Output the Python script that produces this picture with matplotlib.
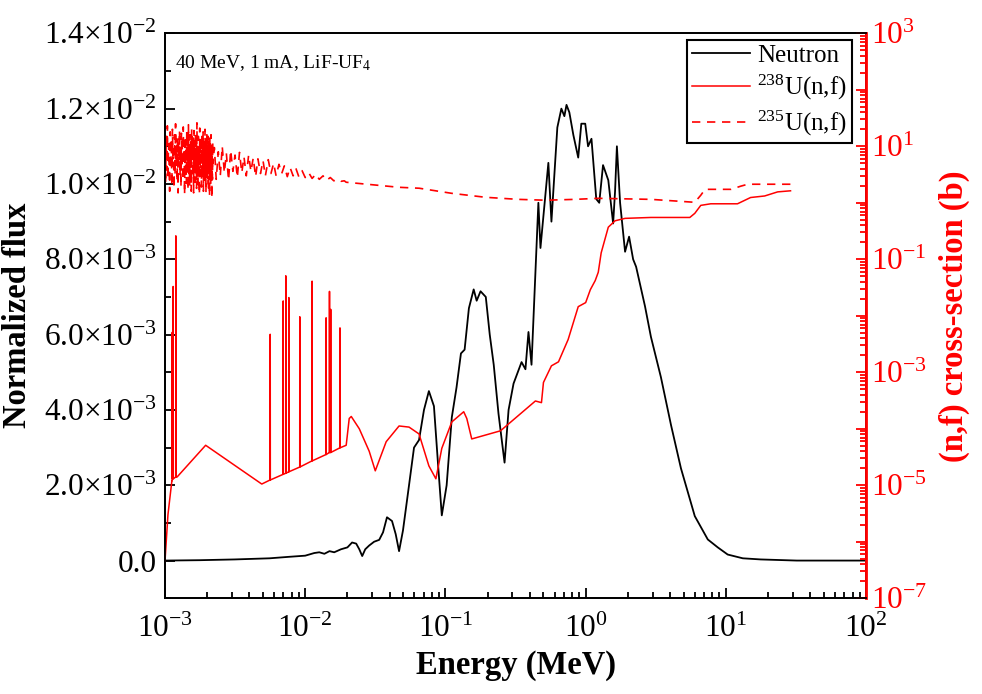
import numpy as np
import matplotlib
matplotlib.use('Agg')
import matplotlib.pyplot as plt
from matplotlib.ticker import FixedLocator, FuncFormatter, LogLocator, MultipleLocator

plt.rcParams['font.family'] = ['Liberation Serif', 'DejaVu Serif']
plt.rcParams['mathtext.fontset'] = 'custom'
plt.rcParams['mathtext.rm'] = 'Liberation Serif'
plt.rcParams['mathtext.it'] = 'Liberation Serif:italic'
plt.rcParams['mathtext.bf'] = 'Liberation Serif:bold'

# neutron flux (left axis, in units of 1e-3), energy in MeV
flux_e = [1e-3, 1.77e-3, 3.14e-3, 5.57e-3, 7.7e-3, 0.010, 0.0116, 0.0126, 0.0137, 0.0149,
          0.0161, 0.018, 0.020, 0.0216, 0.0231, 0.0243, 0.0255, 0.0268, 0.0286, 0.031,
          0.0337, 0.0359, 0.0383, 0.0416, 0.0442, 0.0467, 0.0498, 0.055, 0.0597, 0.0648,
          0.0703, 0.0762, 0.0828, 0.0884, 0.0942, 0.102, 0.111, 0.120, 0.129, 0.137,
          0.147, 0.159, 0.167, 0.178, 0.194, 0.207, 0.221, 0.239, 0.264, 0.282,
          0.306, 0.349, 0.372, 0.391, 0.411, 0.46, 0.476, 0.542, 0.57, 0.628,
          0.671, 0.705, 0.73, 0.765, 0.817, 0.885, 0.931, 0.993, 1.04, 1.10,
          1.19, 1.25, 1.33, 1.45, 1.57, 1.62, 1.67, 1.76, 1.91, 2.04,
          2.18, 2.29, 2.65, 2.92, 3.44, 4.06, 4.78, 6.0, 7.43, 8.75,
          10.3, 13.2, 17.7, 32.0, 100.0]
flux_v = [0.0, 0.01, 0.03, 0.06, 0.10, 0.13, 0.20, 0.22, 0.18, 0.25,
          0.22, 0.30, 0.35, 0.48, 0.45, 0.30, 0.12, 0.30, 0.40, 0.50,
          0.55, 0.75, 1.15, 1.05, 0.70, 0.25, 0.80, 2.0, 3.0, 3.2,
          4.0, 4.5, 4.1, 2.6, 1.2, 2.0, 3.8, 4.6, 5.5, 5.6,
          6.7, 7.2, 6.9, 7.15, 7.0, 6.0, 5.2, 3.9, 2.6, 4.0,
          4.7, 5.27, 5.08, 6.07, 5.2, 9.5, 8.3, 10.56, 9.0, 11.5,
          12.0, 11.8, 12.1, 11.9, 11.3, 10.7, 11.6, 11.6, 11.0, 11.2,
          9.6, 9.5, 10.5, 10.1, 8.95, 9.8, 11.0, 9.5, 8.2, 8.6,
          8.0, 7.8, 6.75, 5.94, 4.87, 3.6, 2.45, 1.18, 0.56, 0.35,
          0.16, 0.06, 0.03, 0.0, 0.0]

# 238U(n,f) cross-section (b), resonance spikes as base/peak/base triples
u238_e = [1.0e-3, 1.05e-3, 1.12e-3, 1.125e-3, 1.127e-3, 1.129e-3, 1.142e-3, 1.144e-3, 1.146e-3,
          1.193e-3, 1.195e-3, 1.197e-3, 1.22e-3, 1.95e-3, 4.9e-3,
          5.62e-3, 5.63e-3, 5.64e-3, 6.96e-3, 6.97e-3, 6.98e-3, 7.26e-3, 7.27e-3, 7.28e-3,
          7.63e-3, 7.64e-3, 7.65e-3, 9.14e-3, 9.15e-3, 9.16e-3, 0.01118, 0.0112, 0.01122,
          0.01408, 0.0141, 0.01412, 0.01488, 0.0149, 0.01492, 0.01518, 0.0152, 0.01522,
          0.01768, 0.0177, 0.01772, 0.0196,
          0.0206, 0.0213, 0.0243, 0.0286, 0.0316, 0.0378, 0.0467, 0.055, 0.0648, 0.0762,
          0.0855, 0.0942, 0.111, 0.135, 0.142, 0.154, 0.247, 0.438, 0.484, 0.50,
          0.57, 0.64, 0.75, 0.885, 1.0, 1.08, 1.17, 1.23, 1.29, 1.45,
          1.62, 1.91, 2.92, 5.53, 6.0, 6.62, 7.8, 12.1, 15.0, 18.9,
          23.4, 28.9]
u238_v = [4.5e-7, 3.0e-6, 1.2e-5, 1.2e-5, 5.1e-3, 1.3e-5, 1.3e-5, 3.3e-2, 1.3e-5,
          1.4e-5, 0.26, 1.4e-5, 1.4e-5, 5.1e-5, 1.05e-5,
          1.24e-5, 4.7e-3, 1.24e-5, 1.56e-5, 1.83e-2, 1.56e-5, 1.63e-5, 5.1e-2, 1.63e-5,
          1.73e-5, 2.1e-2, 1.73e-5, 2.1e-5, 9.6e-3, 2.1e-5, 2.7e-5, 4.1e-2, 2.7e-5,
          3.5e-5, 9.2e-3, 3.5e-5, 3.8e-5, 2.7e-2, 3.8e-5, 3.8e-5, 1.3e-2, 3.8e-5,
          4.6e-5, 6.1e-3, 4.6e-5, 5.1e-5,
          1.52e-4, 1.65e-4, 1.0e-4, 4.0e-5, 1.8e-5, 5.9e-5, 1.12e-4, 1.07e-4, 8.1e-5, 2.2e-5,
          1.3e-5, 4.5e-5, 1.32e-4, 2.0e-4, 1.52e-4, 6.6e-5, 9.2e-5, 3.1e-4, 2.9e-4, 6.6e-4,
          1.3e-3, 1.53e-3, 3.8e-3, 1.45e-2, 1.71e-2, 2.9e-2, 4.2e-2, 5.9e-2, 0.13, 0.37,
          0.48, 0.53, 0.55, 0.55, 0.65, 0.90, 0.96, 0.96, 1.24, 1.32,
          1.56, 1.63]

# 235U(n,f) cross-section (b), energy in keV
u235_e_kev = [1.00, 1.01, 1.02, 1.03, 1.04, 1.05, 1.06, 1.07, 1.08, 1.09,
              1.10, 1.11, 1.12, 1.13, 1.14, 1.15, 1.16, 1.17, 1.18, 1.19,
              1.20, 1.21, 1.22, 1.23, 1.24, 1.25, 1.26, 1.27, 1.28, 1.29,
              1.30, 1.31, 1.32, 1.33, 1.34, 1.35, 1.36, 1.37, 1.38, 1.39,
              1.40, 1.41, 1.42, 1.43, 1.44, 1.45, 1.46, 1.47, 1.48, 1.49,
              1.50, 1.51, 1.52, 1.53, 1.54, 1.55, 1.56, 1.57, 1.58, 1.59,
              1.60, 1.61, 1.62, 1.63, 1.64, 1.65, 1.66, 1.67, 1.68, 1.69,
              1.70, 1.71, 1.72, 1.73, 1.74, 1.75, 1.76, 1.77, 1.78, 1.79,
              1.80, 1.81, 1.82, 1.83, 1.84, 1.85, 1.86, 1.87, 1.88, 1.89,
              1.90, 1.91, 1.92, 1.93, 1.94, 1.95, 1.96, 1.97, 1.98, 1.99,
              2.00, 2.01, 2.02, 2.03, 2.04, 2.05, 2.06, 2.07, 2.08, 2.09,
              2.10, 2.11, 2.12, 2.13, 2.14, 2.15, 2.16, 2.17, 2.18, 2.19,
              2.20,
              2.25, 2.32, 2.40, 2.48, 2.56, 2.65, 2.74, 2.84, 2.94, 3.05,
              3.16, 3.28, 3.40, 3.53, 3.66, 3.80, 3.95, 4.10, 4.26, 4.43,
              4.60, 4.80, 5.00, 5.20, 5.45, 5.70, 5.95, 6.20, 6.50, 6.80,
              7.10, 7.45, 7.80, 8.20, 8.60, 9.00, 9.50, 10.0, 10.6, 11.2,
              11.9, 12.6, 13.4, 14.2, 15.1, 16.0, 17.0, 18.0, 19.0,
              19.6, 46.7, 65.0, 111, 194, 330, 520, 840, 1230, 2920,
              6000, 6620, 7100, 10900, 12700, 14300, 28900]
u235_v = [7, 2.2, 15, 3.8, 23, 2.6, 11, 5, 1.6, 18,
          4, 13, 2.0, 20, 6, 9, 1.8, 16, 3.2, 25,
          4.6, 10, 2.4, 14, 1.5, 12, 5.5, 19, 3.0, 8,
          1.9, 17, 4.2, 11, 2.5, 22, 6.5, 9, 1.4, 15,
          3.6, 13, 2.2, 18, 5, 10, 1.7, 24, 3.3, 8,
          2.0, 16, 4.4, 12, 1.6, 20, 6, 11, 2.8, 14,
          1.5, 19, 3.9, 9, 2.3, 17, 5.2, 12, 1.8, 26,
          3.4, 10, 2.1, 15, 4.8, 8, 1.4, 21, 3.0, 13,
          5.8, 9, 1.9, 16, 2.7, 12, 4.0, 18, 1.6, 11,
          3.5, 14, 2.2, 20, 5.4, 8, 1.5, 13, 3.1, 17,
          2.4, 10, 4.6, 15, 1.7, 12, 3.7, 9, 1.3, 14,
          4.2, 11, 2.0, 16, 3.0, 8, 1.2, 10, 2.6, 12,
          5.0,
          9.5, 2.6, 8, 3.0, 10, 3.4, 7.5, 2.5, 8.5, 3.6,
          7, 2.8, 7.8, 3.4, 6.5, 3.0, 7.0, 3.6, 6.2, 2.9,
          6.0, 3.3, 5.6, 3.0, 5.8, 3.3, 5.0, 3.0, 4.8, 3.3,
          4.5, 2.9, 4.2, 3.0, 4.0, 2.9, 3.7, 2.8, 3.4, 2.7,
          3.2, 2.6, 3.0, 2.5, 2.8, 2.45, 2.6, 2.4, 2.45,
          2.31, 1.88, 1.81, 1.47, 1.25, 1.15, 1.11, 1.15, 1.20, 1.15,
          1.02, 1.36, 1.73, 1.73, 1.96, 2.13, 2.13]

flux_ticks = [0.0, 2e-3, 4e-3, 6e-3, 8e-3, 1e-2, 1.2e-2, 1.4e-2]


def flux_label(v, pos):
    if abs(v) < 1e-12:
        return '0.0'
    exp = int(np.floor(np.log10(v) + 1e-9))
    return f'{v / 10**exp:.1f}×10$^{{{exp}}}$'


def xs_label(v, pos):
    k = int(round(np.log10(v)))
    return f'$10^{{{k}}}$' if k % 2 else ''


fig = plt.figure(figsize=(9.82, 6.94), dpi=100)
ax = fig.add_axes([0.168, 0.138, 0.714, 0.814])
ax2 = ax.twinx()

l1, = ax.plot(flux_e, np.array(flux_v) * 1e-3, color='black', lw=1.3, label='Neutron')
l2, = ax2.plot(u238_e, u238_v, color='red', lw=1.1, label='$^{238}$U(n,f)')
l3, = ax2.plot(np.array(u235_e_kev) * 1e-3, u235_v, color='red', lw=1.2, ls=(0, (5, 4)),
               label='$^{235}$U(n,f)')

ax.set_xscale('log')
ax.set_xlim(1e-3, 1e2)
ax.set_ylim(-1e-3, 1.4e-2)
ax.yaxis.set_major_locator(FixedLocator(flux_ticks))
ax.yaxis.set_major_formatter(FuncFormatter(flux_label))
ax.yaxis.set_minor_locator(MultipleLocator(1e-3))
ax.xaxis.set_minor_locator(LogLocator(base=10, subs=np.arange(2, 10), numticks=50))

ax2.set_yscale('log')
ax2.set_ylim(1e-7, 1e3)
ax2.yaxis.set_major_locator(FixedLocator(10.0 ** np.arange(-7, 4)))
ax2.yaxis.set_major_formatter(FuncFormatter(xs_label))
ax2.yaxis.set_minor_locator(LogLocator(base=10, subs=np.arange(2, 10), numticks=100))

ax.tick_params(axis='both', which='both', direction='in', labelsize=22.5, width=1.3)
ax.tick_params(axis='both', which='major', length=7)
ax.tick_params(axis='both', which='minor', length=4)
ax.tick_params(axis='x', which='both', pad=12)
ax.tick_params(axis='y', which='both', pad=6)
ax2.tick_params(axis='y', which='both', direction='in', colors='red', labelsize=22.5, width=1.3)
ax2.tick_params(axis='y', which='major', length=7)
ax2.tick_params(axis='y', which='minor', length=4)

for s in ax.spines.values():
    s.set_linewidth(1.3)
for s in ax2.spines.values():
    s.set_linewidth(1.3)
ax2.spines['right'].set_color('red')
ax2.spines['right'].set_linewidth(2)

ax.set_xlabel('Energy (MeV)', fontsize=23.5, fontweight='bold')
ax.set_ylabel('Normalized flux', fontsize=23.5, fontweight='bold', labelpad=8)
ax2.set_ylabel('(n,f) cross-section (b)', fontsize=23.5, fontweight='bold', color='red',
               labelpad=8)

ax.text(0.014, 0.965, '40 MeV, 1 mA, LiF-UF$_4$', transform=ax.transAxes,
        ha='left', va='top', fontsize=14)

leg = ax2.legend(handles=[l1, l2, l3], loc='upper right', bbox_to_anchor=(0.980, 0.989),
                 fontsize=18, fancybox=False, framealpha=1, edgecolor='black',
                 handlelength=2.3, labelspacing=0.25, borderaxespad=0.0,
                 handletextpad=0.3, borderpad=0.2)
leg.get_frame().set_linewidth(1.5)

fig.savefig('out.png', dpi=100)
